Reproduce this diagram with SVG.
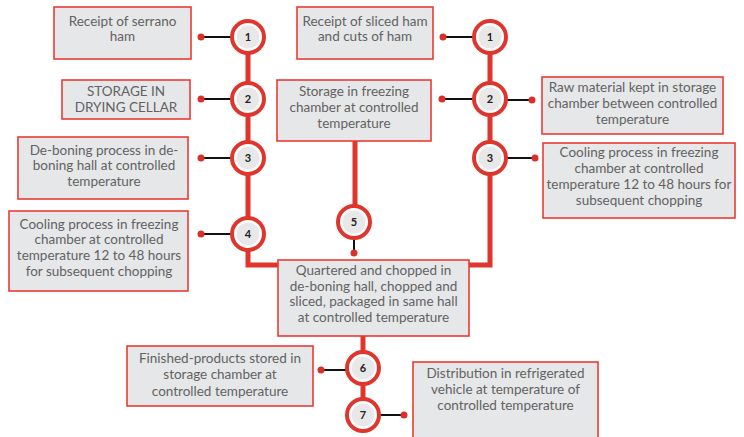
<svg xmlns="http://www.w3.org/2000/svg" width="744" height="437" viewBox="0 0 744 437">
<style>
.box{fill:#e6e7e8;stroke:#ec3b34;stroke-width:1.6}
.t{font-family:Lato,"Liberation Sans",sans-serif;font-size:13.5px;fill:#626262;text-anchor:middle}
.spine{fill:none;stroke:#e0352c;stroke-width:5;stroke-linejoin:miter}
.lk{stroke:#111;stroke-width:2}
.dot{fill:#d9312a}
.ring{fill:#fff;stroke:#e0352c;stroke-width:4}
.in{fill:#e8e8e9}
.n{font-family:Lato,"Liberation Sans",sans-serif;font-size:11px;font-weight:bold;fill:#222;text-anchor:middle}
</style>
<defs>
<g id="c"><circle class="ring" r="16"/><circle class="in" r="11.5"/></g>
</defs>
<rect width="744" height="437" fill="#fff"/>
<g id="connectors">
<path class="spine" d="M248 37 V265 H280"/>
<path class="spine" d="M490 37 V265 H468"/>
<path class="spine" d="M355 141 V222"/>
<path class="spine" d="M363 336 V415"/>
<line class="lk" x1="201" y1="37" x2="232" y2="37"/><circle class="dot" cx="201" cy="37" r="3.5"/>
<line class="lk" x1="201" y1="99" x2="232" y2="99"/><circle class="dot" cx="201" cy="99" r="3.5"/>
<line class="lk" x1="201" y1="158" x2="232" y2="158"/><circle class="dot" cx="201" cy="158" r="3.5"/>
<line class="lk" x1="201" y1="234" x2="232" y2="234"/><circle class="dot" cx="201" cy="234" r="3.5"/>
<line class="lk" x1="443" y1="37" x2="474" y2="37"/><circle class="dot" cx="443" cy="37" r="3.5"/>
<line class="lk" x1="442" y1="99" x2="474" y2="99"/><circle class="dot" cx="442" cy="99" r="3.5"/>
<line class="lk" x1="506" y1="100" x2="532" y2="100"/><circle class="dot" cx="532" cy="100" r="3.5"/>
<line class="lk" x1="506" y1="158" x2="535" y2="158"/><circle class="dot" cx="535" cy="158" r="3.5"/>
<line class="lk" x1="354" y1="238" x2="354" y2="253"/><circle class="dot" cx="354" cy="253" r="3.5"/>
<line class="lk" x1="321" y1="370" x2="347" y2="370"/><circle class="dot" cx="321" cy="370" r="3.5"/>
<line class="lk" x1="379" y1="415" x2="404" y2="415"/><circle class="dot" cx="404" cy="415" r="3.5"/>
</g>
<g id="L1"><rect class="box" x="54" y="7" width="137" height="52"/><text class="t" x="122.5" y="25.5">Receipt of serrano</text><text class="t" x="122.5" y="41">ham</text></g>
<g id="L2"><rect class="box" x="62" y="80" width="128" height="39"/><text class="t" x="126" y="95.5">STORAGE IN</text><text class="t" x="126" y="111.5">DRYING CELLAR</text></g>
<g id="L3"><rect class="box" x="18" y="137" width="170" height="62"/><text class="t" x="104" y="154.5">De-boning process in de-</text><text class="t" x="104" y="170">boning hall at controlled</text><text class="t" x="104" y="185.5">temperature</text></g>
<g id="L4"><rect class="box" x="9" y="211" width="179" height="80"/><text class="t" x="99" y="228.5">Cooling process in freezing</text><text class="t" x="99" y="244.3">chamber at controlled</text><text class="t" x="99" y="260">temperature 12 to 48 hours</text><text class="t" x="99" y="276">for subsequent chopping</text></g>
<g id="R1"><rect class="box" x="297" y="7" width="136" height="52"/><text class="t" x="365" y="25.5">Receipt of sliced ham</text><text class="t" x="365" y="41">and cuts of ham</text></g>
<g id="S"><rect class="box" x="277" y="80" width="154" height="61"/><text class="t" x="354" y="95.5">Storage in freezing</text><text class="t" x="354" y="111.5">chamber at controlled</text><text class="t" x="354" y="127.5">temperature</text></g>
<g id="R2"><rect class="box" x="542" y="77" width="181" height="57"/><text class="t" x="632.5" y="91.5">Raw material kept in storage</text><text class="t" x="632.5" y="107.5">chamber between controlled</text><text class="t" x="632.5" y="123.5">temperature</text></g>
<g id="R3"><rect class="box" x="543" y="143" width="192" height="75"/><text class="t" x="639" y="156.5">Cooling process in freezing</text><text class="t" x="639" y="173">chamber at controlled</text><text class="t" x="639" y="189">temperature 12 to 48 hours for</text><text class="t" x="639" y="204.5">subsequent chopping</text></g>
<g id="M"><rect class="box" x="278" y="260" width="191" height="76"/><text class="t" x="373.5" y="274.5">Quartered and chopped in</text><text class="t" x="373.5" y="290.5">de-boning hall, chopped and</text><text class="t" x="373.5" y="306">sliced, packaged in same hall</text><text class="t" x="373.5" y="321.5">at controlled temperature</text></g>
<g id="F"><rect class="box" x="127" y="346" width="186" height="60"/><text class="t" x="220" y="362.5">Finished-products stored in</text><text class="t" x="220" y="379">storage chamber at</text><text class="t" x="220" y="395.5">controlled temperature</text></g>
<g id="D"><rect class="box" x="413" y="362" width="185" height="85"/><text class="t" x="505.5" y="377.5">Distribution in refrigerated</text><text class="t" x="505.5" y="393.5">vehicle at temperature of</text><text class="t" x="505.5" y="410">controlled temperature</text></g>
<g id="n1l"><use href="#c" x="248" y="37"/><text class="n" x="248" y="41">1</text></g>
<g id="n2l"><use href="#c" x="248" y="99"/><text class="n" x="248" y="103">2</text></g>
<g id="n3l"><use href="#c" x="248" y="158"/><text class="n" x="248" y="162">3</text></g>
<g id="n4l"><use href="#c" x="248" y="234"/><text class="n" x="248" y="238">4</text></g>
<g id="n1r"><use href="#c" x="490" y="37"/><text class="n" x="490" y="41">1</text></g>
<g id="n2r"><use href="#c" x="490" y="99"/><text class="n" x="490" y="103">2</text></g>
<g id="n3r"><use href="#c" x="490" y="158"/><text class="n" x="490" y="162">3</text></g>
<g id="n5"><use href="#c" x="354" y="222"/><text class="n" x="354" y="226">5</text></g>
<g id="n6"><use href="#c" x="363" y="368"/><text class="n" x="363" y="372">6</text></g>
<g id="n7"><use href="#c" x="363" y="415"/><text class="n" x="363" y="419">7</text></g>
</svg>
